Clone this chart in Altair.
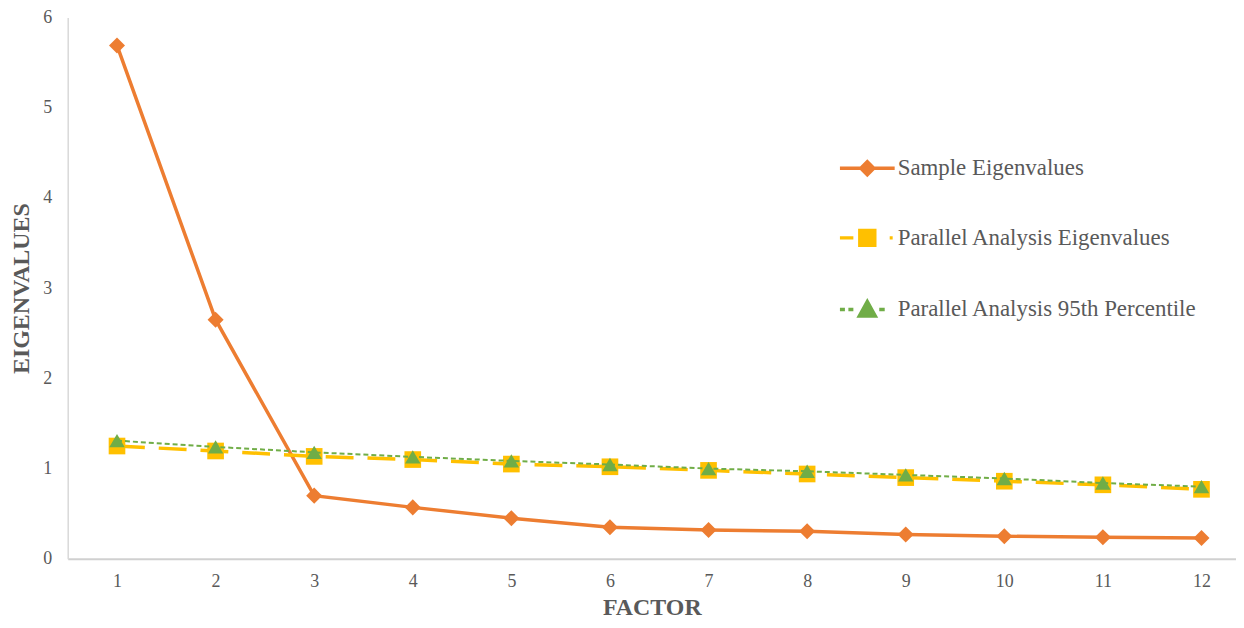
import altair as alt
import pandas as pd

factors = [1, 2, 3, 4, 5, 6, 7, 8, 9, 10, 11, 12]
sample_eigen = [5.69, 2.65, 0.70, 0.57, 0.45, 0.35, 0.32, 0.305, 0.27, 0.25, 0.24, 0.23]
parallel_eigen = [1.25, 1.195, 1.135, 1.10, 1.05, 1.02, 0.98, 0.94, 0.90, 0.86, 0.82, 0.77]
parallel_95 = [1.31, 1.24, 1.18, 1.13, 1.085, 1.045, 1.00, 0.97, 0.93, 0.89, 0.84, 0.80]
series_names = ["Sample Eigenvalues", "Parallel Analysis Eigenvalues", "Parallel Analysis 95th Percentile"]
y_ticks = [0, 1, 2, 3, 4, 5, 6]

ORANGE = "#ED7D31"
YELLOW = "#FFC000"
GREEN = "#70AD47"
TEXT = "#595959"
FONT = "Liberation Serif"

rows = []
for name, vals in zip(series_names, [sample_eigen, parallel_eigen, parallel_95]):
    for f, v in zip(factors, vals):
        rows.append({"factor": f, "value": v, "series": name})
df = pd.DataFrame(rows)

x_enc = alt.X(
    "factor:Q",
    scale=alt.Scale(domain=[0.5, 12.35], nice=False, zero=False),
    axis=alt.Axis(
        values=factors, format="d", title="FACTOR", grid=False, ticks=False,
        domainColor="#D0D0D0", domainWidth=2, labelPadding=14,
        labelFont=FONT, labelFontSize=18, labelColor=TEXT,
        titleFont=FONT, titleFontSize=24, titleFontWeight="bold", titleColor=TEXT,
        titlePadding=5,
    ),
)
y_enc = alt.Y(
    "value:Q",
    scale=alt.Scale(domain=[0, 6], nice=False),
    axis=alt.Axis(
        values=y_ticks, title="EIGENVALUES", grid=False, ticks=False,
        domainColor="#D9D9D9", domainWidth=1.5, labelPadding=16,
        labelFont=FONT, labelFontSize=18, labelColor=TEXT,
        titleFont=FONT, titleFontSize=24, titleFontWeight="bold", titleColor=TEXT,
        titlePadding=9,
    ),
)

base = alt.Chart(df).encode(x=x_enc, y=y_enc)

def series_layers(name, color, width, dash, shape, size):
    sub = base.transform_filter(alt.datum.series == name)
    line_kwargs = dict(color=color, strokeWidth=width)
    if dash:
        line_kwargs["strokeDash"] = dash
    line = sub.mark_line(**line_kwargs)
    pts = sub.mark_point(shape=shape, size=size, filled=True, color=color, opacity=1)
    return [line, pts]

layers = []
layers += series_layers(series_names[0], ORANGE, 3.5, None, "diamond", 260)
layers += series_layers(series_names[1], YELLOW, 3.5, [28, 14], "square", 280)
layers += series_layers(series_names[2], GREEN, 2, [5, 3], "triangle-up", 240)

legend_shapes = [
    "M-5.5,0H5.5M0,-1.3L1.3,0L0,1.3L-1.3,0Z",
    "M-5.5,0H-2.8M4.5,0H5.1M-1.5,-1.5H1.5V1.5H-1.5Z",
    "M-5.5,0H-4.5M-3.8,0H-2.8M2.4,0H3.5M0,-1.6L1.6,1.3L-1.6,1.3Z",
]
legend_colors = [ORANGE, YELLOW, GREEN]
legend_widths = [3.5, 3.5, 2]

def make_legend():
    return alt.Legend(
        title=None, orient="none", legendX=792, legendY=140,
        labelFont=FONT, labelFontSize=23, labelColor=TEXT,
        symbolSize=100, rowPadding=42, labelOffset=19, labelLimit=500,
        symbolOpacity=1,
    )

legend_layer = base.mark_point(filled=True, opacity=0).encode(
    color=alt.Color("series:N", scale=alt.Scale(domain=series_names, range=legend_colors), legend=make_legend()),
    stroke=alt.Stroke("series:N", scale=alt.Scale(domain=series_names, range=legend_colors), legend=make_legend()),
    shape=alt.Shape("series:N", scale=alt.Scale(domain=series_names, range=legend_shapes), legend=make_legend()),
    strokeWidth=alt.StrokeWidth("series:N", scale=alt.Scale(domain=series_names, range=legend_widths), legend=make_legend()),
)
layers.append(legend_layer)

chart = alt.layer(*layers).properties(
    width=1174, height=544,
    autosize=alt.AutoSizeParams(type="none"),
    padding={"left": 60, "top": 8, "right": 0, "bottom": 60},
    background="white",
).configure_view(stroke=None)

chart.save("out.html", embed_options={"renderer": "svg", "actions": False})
